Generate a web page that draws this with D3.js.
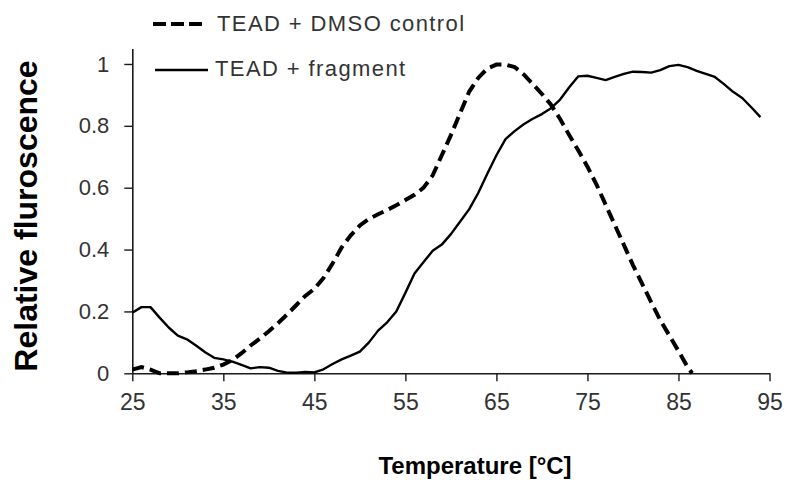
<!DOCTYPE html>
<html>
<head>
<meta charset="utf-8">
<script src="https://cdn.jsdelivr.net/npm/d3@7"></script>
<style>
    body { margin: 0; background: #fff; }
    svg { display: block; font-family: "Liberation Sans", Arial, sans-serif; }
</style>
</head>
<body>
<div id="melt-chart"></div>
<script>
"use strict";

// temperatures (°C) and relative fluorescence
const dmsoTemps = [25, 26, 27, 28, 29, 30, 31, 32, 33, 34, 35, 36, 37, 38, 39, 40,
    41, 42, 43, 44, 45, 46, 47, 48, 49, 50, 51, 52, 53, 54, 55, 56, 57, 58, 59, 60,
    61, 62, 63, 64, 65, 66, 67, 68, 69, 70, 71, 72, 73, 74, 75, 76, 77, 78, 79, 80,
    81, 82, 83, 84, 85, 86, 86.5];
const dmsoValues = [0.012, 0.02, 0.012, 0.0, 0.0, 0.0, 0.003, 0.007, 0.012, 0.018,
    0.028, 0.043, 0.065, 0.09, 0.112, 0.136, 0.162, 0.19, 0.22, 0.25, 0.273, 0.308,
    0.355, 0.407, 0.446, 0.478, 0.499, 0.514, 0.528, 0.543, 0.56, 0.577, 0.6, 0.64,
    0.705, 0.77, 0.84, 0.91, 0.955, 0.985, 0.998, 0.998, 0.99, 0.966, 0.935, 0.903,
    0.868, 0.822, 0.77, 0.72, 0.668, 0.61, 0.545, 0.48, 0.415, 0.35, 0.29, 0.23,
    0.172, 0.122, 0.072, 0.02, 0.0];

const fragTemps = [25, 26, 27, 28, 29, 30, 31, 32, 33, 34, 35, 36, 37, 38, 39, 40,
    41, 42, 43, 44, 45, 46, 47, 48, 49, 50, 51, 52, 53, 54, 55, 56, 57, 58, 59, 60,
    61, 62, 63, 64, 65, 66, 67, 68, 69, 70, 71, 72, 73, 74, 75, 76, 77, 78, 79, 80,
    81, 82, 83, 84, 85, 86, 87, 88, 89, 90, 91, 92, 93, 94];
const fragValues = [0.196, 0.214, 0.214, 0.18, 0.148, 0.122, 0.11, 0.09, 0.068,
    0.05, 0.045, 0.038, 0.027, 0.016, 0.02, 0.018, 0.008, 0.002, 0.002, 0.004, 0.003,
    0.013, 0.03, 0.045, 0.057, 0.07, 0.1, 0.138, 0.165, 0.2, 0.26, 0.323, 0.36, 0.396,
    0.416, 0.45, 0.49, 0.53, 0.583, 0.645, 0.705, 0.757, 0.783, 0.805, 0.823, 0.838,
    0.857, 0.885, 0.925, 0.96, 0.962, 0.955, 0.948, 0.958, 0.968, 0.975, 0.974, 0.972,
    0.98, 0.993, 0.997, 0.99, 0.978, 0.968, 0.958, 0.935, 0.91, 0.89, 0.86, 0.828];

const xTicks = [25, 35, 45, 55, 65, 75, 85, 95];
const yTicks = [0, 0.2, 0.4, 0.6, 0.8, 1];
const seriesNames = ["TEAD + DMSO control", "TEAD + fragment"];

const svgWidth = 786,
    svgHeight = 480;

const svg = d3.select("#melt-chart").append("svg")
    .attr("width", svgWidth)
    .attr("height", svgHeight);

// plot area edges
const plot = { left: 132.3, right: 769.5, top: 48.5, bottom: 373.3 };

const x = d3.scaleLinear().domain([25, 95]).range([plot.left, plot.right]);
const y = d3.scaleLinear().domain([0, 1.05]).range([plot.bottom, plot.top]);

const DASH = "12,6";

// x axis
const xAxis = svg.append("g")
    .attr("transform", `translate(0,${plot.bottom})`)
    .call(d3.axisBottom(x).tickValues(xTicks).tickSize(8).tickPadding(12).tickSizeOuter(0));

// y axis
const yAxis = svg.append("g")
    .attr("transform", `translate(${plot.left},0)`)
    .call(d3.axisLeft(y).tickValues(yTicks).tickSize(8).tickPadding(15).tickSizeOuter(0)
        .tickFormat(d => String(+d.toFixed(1))));

for (let ax of [xAxis, yAxis]) {
    ax.select(".domain").attr("stroke", "#1a1a1a").attr("stroke-width", 1.6);
    ax.selectAll(".tick line").attr("stroke", "#1a1a1a").attr("stroke-width", 1.4);
    ax.selectAll(".tick text")
        .attr("fill", "#333")
        .style("font-size", "23px");
}
yAxis.selectAll(".tick text").style("font-size", "22px");

// curves
const line = d3.line()
    .x(d => x(d[0]))
    .y(d => y(d[1]));

const dmso = d3.zip(dmsoTemps, dmsoValues),
    frag = d3.zip(fragTemps, fragValues);

svg.append("path")
    .datum(frag)
    .attr("d", line)
    .attr("fill", "none")
    .attr("stroke", "#000")
    .attr("stroke-width", 2.4)
    .attr("stroke-linejoin", "round");

svg.append("path")
    .datum(dmso)
    .attr("d", line)
    .attr("fill", "none")
    .attr("stroke", "#000")
    .attr("stroke-width", 4)
    .attr("stroke-dasharray", DASH);

// legend
const legend = svg.append("g");

legend.append("line")
    .attr("x1", 153).attr("x2", 202)
    .attr("y1", 24).attr("y2", 24)
    .attr("stroke", "#000")
    .attr("stroke-width", 4)
    .attr("stroke-dasharray", "13,5");

legend.append("line")
    .attr("x1", 155).attr("x2", 208)
    .attr("y1", 70).attr("y2", 70)
    .attr("stroke", "#000")
    .attr("stroke-width", 2.4);

legend.selectAll("text")
    .data(seriesNames)
    .enter()
    .append("text")
    .attr("x", (d, i) => i === 0 ? 217 : 215)
    .attr("y", (d, i) => i === 0 ? 31 : 76)
    .attr("fill", "#333")
    .style("font-size", "22px")
    .style("letter-spacing", "1.4px")
    .text(d => d);

// axis titles
svg.append("text")
    .attr("x", 475)
    .attr("y", 474)
    .attr("text-anchor", "middle")
    .style("font-size", "24px")
    .style("font-weight", "bold")
    .text("Temperature [°C]");

svg.append("text")
    .attr("transform", "translate(37,216) rotate(-90)")
    .attr("text-anchor", "middle")
    .style("font-size", "32px")
    .style("font-weight", "bold")
    .text("Relative fluroscence");
</script>
</body>
</html>
